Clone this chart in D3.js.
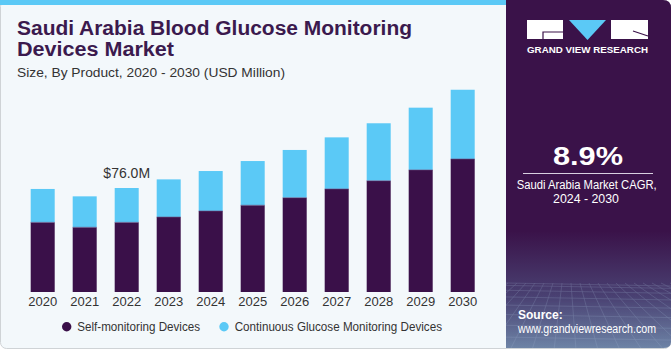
<!DOCTYPE html>
<html>
<head>
<meta charset="utf-8">
<script src="https://cdn.jsdelivr.net/npm/d3@7"></script>
<style>
  html, body { margin: 0; padding: 0; background: #ffffff; }
  svg { display: block; font-family: "Liberation Sans", Arial, sans-serif; }
</style>
</head>
<body>
<div id="chart"></div>
<script>
// data (USD Million)
const years = ["2020", "2021", "2022", "2023", "2024", "2025", "2026", "2027", "2028", "2029", "2030"];
const selfMonitoring = [50.9, 47.3, 50.9, 54.8, 59.2, 63.4, 68.9, 75.3, 81.3, 89.2, 97.2];
const continuousGM = [24.4, 22.6, 25.1, 27.5, 29.2, 32.3, 34.9, 37.7, 42.0, 45.5, 50.6];
const seriesNames = ["Self-monitoring Devices", "Continuous Glucose Monitoring Devices"];
const seriesColors = ["#3a1049", "#5bc9f6"];
const highlightYear = "2022";
const highlightLabel = "$76.0M";

const W = 671, H = 350;
const panelX = 506;

const svg = d3.select("#chart").append("svg")
  .attr("width", W)
  .attr("height", H);

const defs = svg.append("defs");
const grad = defs.append("linearGradient")
  .attr("id", "panelGrad")
  .attr("x1", 0).attr("y1", 0).attr("x2", 0).attr("y2", 1);
grad.append("stop").attr("offset", "0%").attr("stop-color", "#3a1249");
grad.append("stop").attr("offset", "66%").attr("stop-color", "#3a1249");
grad.append("stop").attr("offset", "85%").attr("stop-color", "#4a4273");
grad.append("stop").attr("offset", "100%").attr("stop-color", "#6f86a8");

defs.append("clipPath").attr("id", "panelClip")
  .append("path")
  .attr("d", `M${panelX},0 H${W - 8} Q${W},0 ${W},8 V${H - 8} Q${W},${H - 2} ${W - 8},${H - 2} H${panelX} Z`);

// card background
svg.append("rect")
  .attr("x", 0.5).attr("y", 0.5)
  .attr("width", W - 1).attr("height", H - 2)
  .attr("rx", 6)
  .attr("fill", "#f3f8fb")
  .attr("stroke", "#cfd3d6");

// top cyan stripe
svg.append("rect")
  .attr("x", 0).attr("y", 0)
  .attr("width", panelX).attr("height", 5)
  .attr("fill", "#5bc9f6");

// right panel
const panel = svg.append("g").attr("clip-path", "url(#panelClip)");
panel.append("rect")
  .attr("x", panelX).attr("y", 0)
  .attr("width", W - panelX).attr("height", H)
  .attr("fill", "url(#panelGrad)");

// faint perspective grid at the bottom of the panel
const gridG = panel.append("g")
  .attr("stroke", "#9fb3d0")
  .attr("stroke-width", 0.6)
  .attr("opacity", 0.35);
const horizon = 283;
for (let i = 0; i < 9; i++) {
  const gy = horizon + Math.pow(i / 8, 1.6) * (H - horizon);
  gridG.append("line").attr("x1", panelX).attr("x2", W).attr("y1", gy).attr("y2", gy + 3);
}
for (let i = -8; i <= 16; i++) {
  const xTop = panelX + 20 + i * 9;
  const xBot = panelX + 20 + i * 22 - 60;
  gridG.append("line").attr("x1", xTop).attr("y1", horizon).attr("x2", xBot).attr("y2", H);
}

// logo
const logo = svg.append("g");
logo.append("rect").attr("x", 527).attr("y", 20).attr("width", 36).attr("height", 19).attr("fill", "#ffffff");
logo.append("path").attr("d", "M543,39 V32 H563").attr("fill", "none").attr("stroke", "#3a1249").attr("stroke-width", 1.2);
logo.append("path").attr("d", "M569,20 H606 L587.5,40 Z").attr("fill", "#5bc9f6");
logo.append("rect").attr("x", 611).attr("y", 20).attr("width", 37).attr("height", 19).attr("fill", "#ffffff");
logo.append("path").attr("d", "M633,31 L648,36").attr("fill", "none").attr("stroke", "#3a1249").attr("stroke-width", 1.2);
logo.append("text")
  .attr("x", 587.5).attr("y", 53)
  .attr("text-anchor", "middle")
  .attr("fill", "#ffffff")
  .style("font-size", "8.5px")
  .style("font-weight", "bold")
  .attr("textLength", 121)
  .attr("lengthAdjust", "spacingAndGlyphs")
  .text("GRAND VIEW RESEARCH");

// CAGR
svg.append("text")
  .attr("x", 588).attr("y", 165)
  .attr("text-anchor", "middle")
  .attr("fill", "#ffffff")
  .style("font-size", "26px")
  .style("font-weight", "bold")
  .attr("textLength", 70)
  .attr("lengthAdjust", "spacingAndGlyphs")
  .text("8.9%");
svg.append("line")
  .attr("x1", 523).attr("x2", 653)
  .attr("y1", 173.5).attr("y2", 173.5)
  .attr("stroke", "#d8d0e0").attr("stroke-width", 1);
svg.append("text")
  .attr("x", 586.7).attr("y", 189)
  .attr("text-anchor", "middle")
  .attr("fill", "#ffffff")
  .style("font-size", "12px")
  .attr("textLength", 140)
  .attr("lengthAdjust", "spacingAndGlyphs")
  .text("Saudi Arabia Market CAGR,");
svg.append("text")
  .attr("x", 586).attr("y", 203)
  .attr("text-anchor", "middle")
  .attr("fill", "#ffffff")
  .style("font-size", "12px")
  .attr("textLength", 66)
  .attr("lengthAdjust", "spacingAndGlyphs")
  .text("2024 - 2030");

// source
svg.append("text")
  .attr("x", 518).attr("y", 319)
  .attr("fill", "#ffffff")
  .style("font-size", "12px")
  .style("font-weight", "bold")
  .text("Source:");
svg.append("text")
  .attr("x", 518).attr("y", 333)
  .attr("fill", "#ffffff")
  .style("font-size", "12px")
  .attr("textLength", 138)
  .attr("lengthAdjust", "spacingAndGlyphs")
  .text("www.grandviewresearch.com");

// titles
svg.append("text")
  .attr("x", 17).attr("y", 35)
  .attr("fill", "#3b1a4e")
  .style("font-size", "20px")
  .style("font-weight", "900")
  .attr("textLength", 395)
  .attr("lengthAdjust", "spacingAndGlyphs")
  .text("Saudi Arabia Blood Glucose Monitoring");
svg.append("text")
  .attr("x", 17).attr("y", 56)
  .attr("fill", "#3b1a4e")
  .style("font-size", "20px")
  .style("font-weight", "900")
  .attr("textLength", 157)
  .attr("lengthAdjust", "spacingAndGlyphs")
  .text("Devices Market");
svg.append("text")
  .attr("x", 17).attr("y", 77)
  .attr("fill", "#333333")
  .style("font-size", "13px")
  .attr("textLength", 268)
  .attr("lengthAdjust", "spacingAndGlyphs")
  .text("Size, By Product, 2020 - 2030 (USD Million)");

// scales
const x = d3.scaleBand()
  .domain(years)
  .range([21.7, 483.7])
  .paddingInner(0.4286)
  .paddingOuter(0.2143);

const y = d3.scaleLinear()
  .domain([0, 160])
  .range([292, 292 - 160 * (104 / 76)]);

const rows = years.map((yr, i) => ({ year: yr, self: selfMonitoring[i], cgm: continuousGM[i] }));
const stacked = d3.stack().keys(["self", "cgm"])(rows);

const barsG = svg.append("g");
barsG.selectAll(".series")
  .data(stacked)
  .join("g")
  .attr("class", "series")
  .attr("fill", (d, i) => seriesColors[i])
  .selectAll("rect")
  .data(d => d)
  .join("rect")
  .attr("x", d => x(d.data.year))
  .attr("y", d => y(d[1]))
  .attr("width", x.bandwidth())
  .attr("height", d => y(d[0]) - y(d[1]));

// thin separator at the top of dark segment
barsG.selectAll(".sep")
  .data(rows)
  .join("rect")
  .attr("class", "sep")
  .attr("x", d => x(d.year))
  .attr("y", d => y(d.self) - 0.5)
  .attr("width", x.bandwidth())
  .attr("height", 1)
  .attr("fill", "#6a4f80")
  .attr("opacity", 0.6);

// x axis
const xAxis = d3.axisBottom(x).tickSize(0).tickPadding(0);
const axisG = svg.append("g")
  .attr("transform", "translate(0, 294)")
  .call(xAxis);
axisG.select(".domain").remove();
axisG.selectAll("text")
  .attr("dy", "12px")
  .attr("fill", "#333333")
  .style("font-size", "13px")
  .style("font-family", "'Liberation Sans', Arial, sans-serif");

// highlight label
const hi = rows.find(d => d.year === highlightYear);
svg.append("text")
  .attr("x", x(highlightYear) + x.bandwidth() / 2)
  .attr("y", y(hi.self + hi.cgm) - 10)
  .attr("text-anchor", "middle")
  .attr("fill", "#333333")
  .style("font-size", "14px")
  .text(highlightLabel);

// legend
const legendItems = [
  { name: seriesNames[0], color: seriesColors[0], cx: 66.7, tx: 77.3, len: 122.7 },
  { name: seriesNames[1], color: seriesColors[1], cx: 224, tx: 234.7, len: 207.3 }
];
const legend = svg.append("g");
legend.selectAll("circle")
  .data(legendItems)
  .join("circle")
  .attr("cx", d => d.cx)
  .attr("cy", 326.7)
  .attr("r", 4.7)
  .attr("fill", d => d.color);
legend.selectAll("text")
  .data(legendItems)
  .join("text")
  .attr("x", d => d.tx)
  .attr("y", 331)
  .attr("fill", "#333333")
  .style("font-size", "12px")
  .attr("textLength", d => d.len)
  .attr("lengthAdjust", "spacingAndGlyphs")
  .text(d => d.name);
</script>
</body>
</html>
